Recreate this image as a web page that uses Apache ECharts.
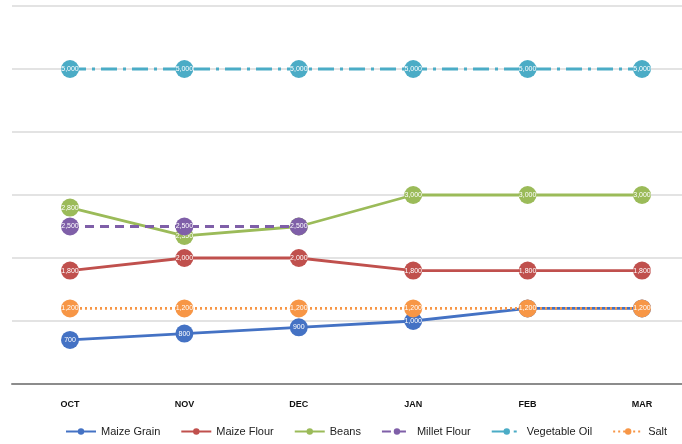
<!DOCTYPE html>
<html><head><meta charset="utf-8">
<script src="https://cdn.jsdelivr.net/npm/echarts@6/dist/echarts.min.js"></script>
<style>html,body{margin:0;padding:0;background:#fff}#c{width:682px;height:444px}</style>
</head><body><div id="c"></div>
<script>
const categories = ['OCT','NOV','DEC','JAN','FEB','MAR'];
const maizeGrain = [700, 800, 900, 1000, 1200, 1200];
const maizeFlour = [1800, 2000, 2000, 1800, 1800, 1800];
const beans = [2800, 2350, 2500, 3000, 3000, 3000];
const milletFlour = [2500, 2500, 2500, null, null, null];
const vegetableOil = [5000, 5000, 5000, 5000, 5000, 5000];
const salt = [1200, 1200, 1200, 1200, 1200, 1200];
const yTicks = {min: 0, max: 6000, interval: 1000};

const FONT = 'Liberation Sans Narrow, Arial Narrow, Liberation Sans, sans-serif';
function fmt(v){ return v.toLocaleString('en-US'); }
function mk(name, data, color, dash, z){
  return {
    name, type:'line', data, z, xAxisIndex:1, yAxisIndex:1,
    symbol:'circle', symbolSize:18,
    connectNulls:false,
    itemStyle:{color},
    lineStyle:{color, width:2.8, type:dash},
    label:{show:true, position:'inside', color:'#fff', fontSize:7, fontFamily:FONT,
      formatter:p=>p.value==null?'':fmt(p.value)},
    emphasis:{disabled:true}
  };
}
const chart = echarts.init(document.getElementById('c'), null, {renderer:'canvas'});
chart.setOption({
  animation:false,
  backgroundColor:'#fff',
  grid:[
    {left:12, right:0, top:6, height:378},
    {left:70, right:40, top:6, height:378}
  ],
  xAxis:[
    {gridIndex:0, type:'category', data:categories, boundaryGap:true,
      axisLine:{show:true, lineStyle:{color:'#8c8c8c', width:2}},
      axisTick:{show:false}, axisLabel:{show:false}},
    {gridIndex:1, type:'category', data:categories, boundaryGap:false,
      axisLine:{show:false}, axisTick:{show:false},
      axisLabel:{color:'#111', fontSize:9, fontWeight:'bold', margin:16, fontFamily:FONT}}
  ],
  yAxis:[
    {gridIndex:0, type:'value', min:yTicks.min, max:yTicks.max, interval:yTicks.interval,
      axisLabel:{show:false}, axisLine:{show:false}, axisTick:{show:false},
      splitLine:{lineStyle:{color:'#e3e3e3', width:2}}},
    {gridIndex:1, type:'value', min:yTicks.min, max:yTicks.max, interval:yTicks.interval,
      axisLabel:{show:false}, axisLine:{show:false}, axisTick:{show:false},
      splitLine:{show:false}}
  ],
  legend:{bottom:2, left:60, itemWidth:30, itemHeight:8, itemGap:20,
    textStyle:{color:'#222', fontSize:11, fontFamily:FONT},
    data:['Maize Grain','Maize Flour','Beans','Millet Flour','Vegetable Oil','Salt']},
  series:[
    mk('Maize Grain', maizeGrain, '#4472C4', 'solid', 3),
    mk('Maize Flour', maizeFlour, '#C0504D', 'solid', 3),
    mk('Beans', beans, '#9BBB59', 'solid', 3),
    mk('Millet Flour', milletFlour, '#7F5FA8', [9,6], 4),
    mk('Vegetable Oil', vegetableOil, '#4BACC6', [16,6,3,6], 3),
    mk('Salt', salt, '#F79646', [2,3], 4)
  ]
});
</script></body></html>
